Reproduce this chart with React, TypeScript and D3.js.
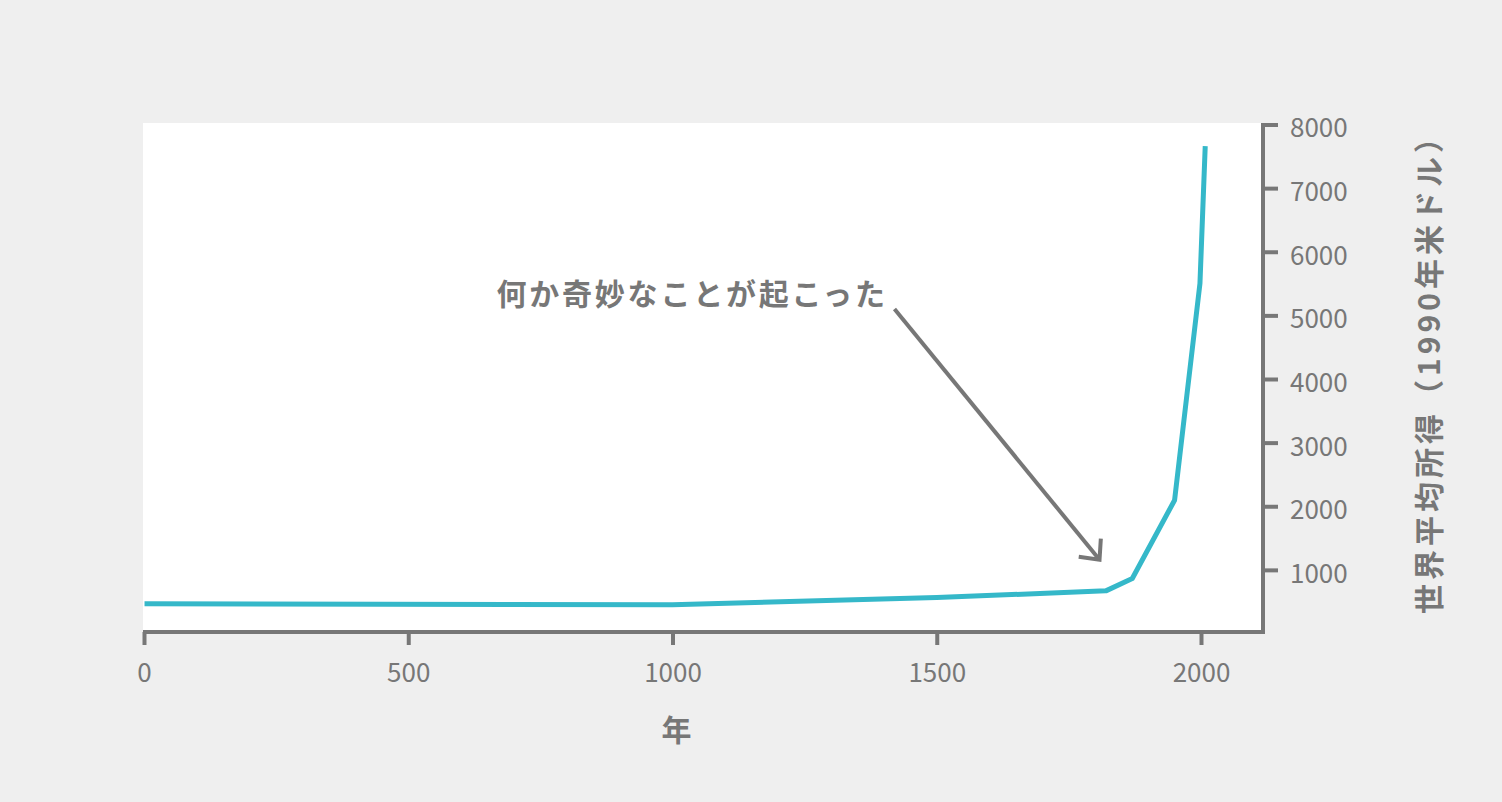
import React, { useEffect, useRef } from "react";
import * as d3 from "d3";

const years = [1, 1000, 1500, 1820, 1870, 1950, 1998, 2008];
const income = [467, 453, 566, 670, 865, 2095, 5500, 7660];
const xTicks = [0, 500, 1000, 1500, 2000];
const yTicks = [1000, 2000, 3000, 4000, 5000, 6000, 7000, 8000];

const xTitle = "年";
const yTitle = "世界平均所得（1990年米ドル）";
const noteText = "何か奇妙なことが起こった";
// annotation anchor points in data units: [year, income]
const noteLabel = [1400, 5340];
const noteFrom = [1420, 5100];
const noteTo = [1808, 1160];

const width = 1502;
const height = 802;
const font = "'Noto Sans CJK JP', 'Noto Sans', sans-serif";
const grey = "#777777";
const teal = "#35b8c9";

export default function App() {
  const svgRef = useRef<SVGSVGElement>(null);

  useEffect(() => {
    if (!svgRef.current) return;
    const svg = d3.select(svgRef.current);
    svg.selectAll("*").remove();

    const plot = { left: 143, right: 1263, top: 123, bottom: 632 };

    const x = d3.scaleLinear().domain([0, 2000]).range([144, 1201]);
    const y = d3.scaleLinear().domain([0, 8000]).range([633.5, 124.5]);

    svg.append("rect")
      .attr("width", width)
      .attr("height", height)
      .attr("fill", "#efefef");

    svg.append("rect")
      .attr("x", plot.left)
      .attr("y", plot.top)
      .attr("width", plot.right - plot.left)
      .attr("height", plot.bottom - plot.top)
      .attr("fill", "#ffffff");

    // line
    const pts = years.map((yr, i) => [yr, income[i]] as [number, number]);
    const line = d3.line<[number, number]>()
      .x(d => x(d[0]))
      .y(d => y(d[1]));

    svg.append("path")
      .datum(pts)
      .attr("fill", "none")
      .attr("stroke", teal)
      .attr("stroke-width", 5)
      .attr("stroke-linejoin", "round")
      .attr("d", line);

    // x-axis
    const gx = svg.append("g")
      .attr("transform", `translate(0, ${plot.bottom})`)
      .call(d3.axisBottom(x).tickValues(xTicks).tickFormat(d3.format("d")).tickSize(13).tickSizeOuter(0).tickPadding(19));
    gx.select(".domain").remove();
    gx.selectAll(".tick line").attr("stroke", grey).attr("stroke-width", 4);
    gx.selectAll(".tick text")
      .attr("fill", grey)
      .style("font-family", font)
      .style("font-size", "26px");

    svg.append("line")
      .attr("x1", plot.left)
      .attr("x2", plot.right + 2)
      .attr("y1", plot.bottom)
      .attr("y2", plot.bottom)
      .attr("stroke", grey)
      .attr("stroke-width", 4);

    // y-axis on the right
    const gy = svg.append("g")
      .attr("transform", `translate(${plot.right}, 0)`)
      .call(d3.axisRight(y).tickValues(yTicks).tickFormat(d3.format("d")).tickSize(15).tickSizeOuter(0).tickPadding(12));
    gy.select(".domain").remove();
    gy.selectAll(".tick line").attr("stroke", grey).attr("stroke-width", 4);
    gy.selectAll(".tick text")
      .attr("fill", grey)
      .attr("dy", "0.48em")
      .style("font-family", font)
      .style("font-size", "26px");

    svg.append("line")
      .attr("x1", plot.right)
      .attr("x2", plot.right)
      .attr("y1", plot.top)
      .attr("y2", plot.bottom + 2)
      .attr("stroke", grey)
      .attr("stroke-width", 4);

    // axis titles
    svg.append("text")
      .attr("x", x(1000) + 4)
      .attr("y", 741)
      .attr("text-anchor", "middle")
      .attr("fill", grey)
      .style("font-family", font)
      .style("font-size", "30px")
      .style("font-weight", 700)
      .text(xTitle);

    svg.append("text")
      .attr("transform", `translate(1440, ${(plot.top + plot.bottom) / 2 - 11}) rotate(-90)`)
      .attr("text-anchor", "middle")
      .attr("fill", grey)
      .style("font-family", font)
      .style("font-size", "30px")
      .style("font-weight", 700)
      .style("letter-spacing", "4px")
      .text(yTitle);

    // annotation
    svg.append("text")
      .attr("x", x(noteLabel[0]) + 4)
      .attr("y", y(noteLabel[1]) + 11)
      .attr("text-anchor", "end")
      .attr("fill", grey)
      .style("font-family", font)
      .style("font-size", "30px")
      .style("font-weight", 700)
      .style("letter-spacing", "2.8px")
      .text(noteText);

    const x0 = x(noteFrom[0]), y0 = y(noteFrom[1]);
    const x1 = x(noteTo[0]), y1 = y(noteTo[1]);
    svg.append("line")
      .attr("x1", x0).attr("y1", y0)
      .attr("x2", x1).attr("y2", y1)
      .attr("stroke", grey)
      .attr("stroke-width", 4);

    const ang = Math.atan2(y0 - y1, x0 - x1);
    const head = 21;
    const spread = Math.PI / 4.2;
    const arrowPath = d3.path();
    arrowPath.moveTo(x1 + head * Math.cos(ang - spread), y1 + head * Math.sin(ang - spread));
    arrowPath.lineTo(x1, y1);
    arrowPath.lineTo(x1 + head * Math.cos(ang + spread), y1 + head * Math.sin(ang + spread));
    svg.append("path")
      .attr("d", arrowPath.toString())
      .attr("fill", "none")
      .attr("stroke", grey)
      .attr("stroke-width", 4);
  }, []);

  return (
    <svg
      ref={svgRef}
      width={width}
      height={height}
      style={{ position: "absolute", left: 0, top: 0, display: "block" }}
    ></svg>
  );
}
